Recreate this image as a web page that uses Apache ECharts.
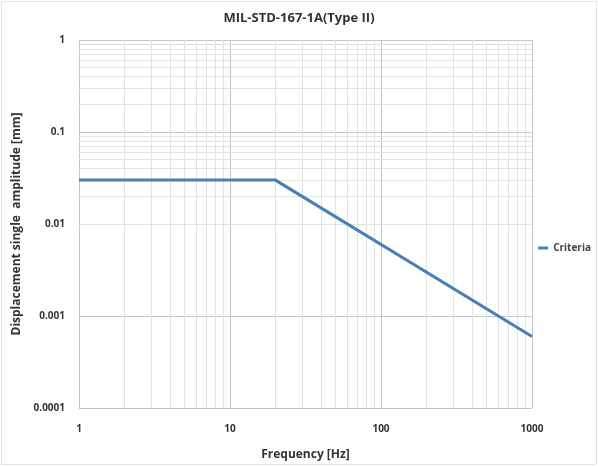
<!DOCTYPE html>
<html>
<head>
<meta charset="utf-8">
<script src="https://cdn.jsdelivr.net/npm/echarts@6/dist/echarts.min.js"></script>
<style>
	html, body { margin: 0; padding: 0; background: #fff; }
	#chart { width: 598px; height: 466px; }
</style>
</head>
<body>
<div id="chart"></div>
<script>
	// 数据
	var freq = [1, 20, 1000];
	var disp = [0.03, 0.03, 0.0006];
	var xDecades = [1, 10, 100, 1000];
	var yDecades = [0.0001, 0.001, 0.01, 0.1, 1];

	// 次网格线 (2..9 每个十进位)
	function minors(decades) {
		var out = [];
		for (var i = 0; i < decades.length - 1; i++) {
			for (var k = 2; k <= 9; k++) {
				out.push(+(decades[i] * k).toPrecision(3));
			}
		}
		return out;
	}
	var xMinor = minors(xDecades);
	var yMinor = minors(yDecades);

	var font = 'Open Sans, Noto Sans, sans-serif';

	var myChart = echarts.init(document.getElementById('chart'));
	var option = {
		animation: false,
		backgroundColor: '#fff',
		title: {
			text: 'MIL-STD-167-1A(Type II)',
			left: 'center',
			top: 7,
			textStyle: { fontSize: 13, fontWeight: 'bold', color: '#333', fontFamily: font }
		},
		legend: {
			right: 2,
			top: 238,
			orient: 'vertical',
			icon: 'rect',
			itemWidth: 10,
			itemHeight: 3,
			itemGap: 4,
			textStyle: { fontSize: 10, fontWeight: 'bold', color: '#444', fontFamily: font },
			data: ['Criteria']
		},
		grid: { left: 79, right: 66, top: 40, bottom: 55 },
		xAxis: {
			type: 'log',
			logBase: 10,
			min: 1,
			max: 1000,
			name: 'Frequency [Hz]',
			nameLocation: 'middle',
			nameGap: 41,
			nameTextStyle: { fontSize: 12, fontWeight: 'bold', color: '#333', fontFamily: font },
			axisLine: { show: false },
			axisTick: { show: false },
			axisLabel: {
				margin: 16,
				fontSize: 10,
				fontWeight: 'bold',
				color: '#333',
				fontFamily: font,
				formatter: function(v) { return String(v); }
			},
			splitLine: { show: true, lineStyle: { color: '#c4c4c4', width: 1 } }
		},
		yAxis: {
			type: 'log',
			logBase: 10,
			min: 0.0001,
			max: 1,
			name: 'Displacement single  amplitude [mm]',
			nameLocation: 'middle',
			nameGap: 54,
			nameTextStyle: { fontSize: 12, fontWeight: 'bold', color: '#333', fontFamily: font },
			axisLine: { show: false },
			axisTick: { show: false },
			axisLabel: {
				margin: 14,
				fontSize: 10,
				fontWeight: 'bold',
				color: '#333',
				fontFamily: font,
				formatter: function(v) { return String(+v.toPrecision(3)); }
			},
			splitLine: { show: true, lineStyle: { color: '#c4c4c4', width: 1 } }
		},
		series: [{
				name: 'grid-minor',
				type: 'line',
				data: [],
				silent: true,
				z: 0,
				markLine: {
					silent: true,
					symbol: 'none',
					label: { show: false },
					lineStyle: { color: '#e3e3e3', width: 1, type: 'solid' },
					data: xMinor.map(function(v) { return { xAxis: v }; })
						.concat(yMinor.map(function(v) { return { yAxis: v }; }))
				}
			},
			{
				name: 'Criteria',
				type: 'line',
				z: 10,
				data: freq.map(function(f, i) { return [f, disp[i]]; }),
				showSymbol: false,
				symbol: 'none',
				itemStyle: { color: '#4a7ebb' },
				lineStyle: { color: '#4a7ebb', width: 3 }
			}
		],
		graphic: [{
			type: 'rect',
			shape: { x: 1.5, y: 1.5, width: 595, height: 463 },
			style: { fill: 'none', stroke: '#e4e4e4', lineWidth: 1 },
			silent: true
		}]
	};
	myChart.setOption(option);
</script>
</body>
</html>
